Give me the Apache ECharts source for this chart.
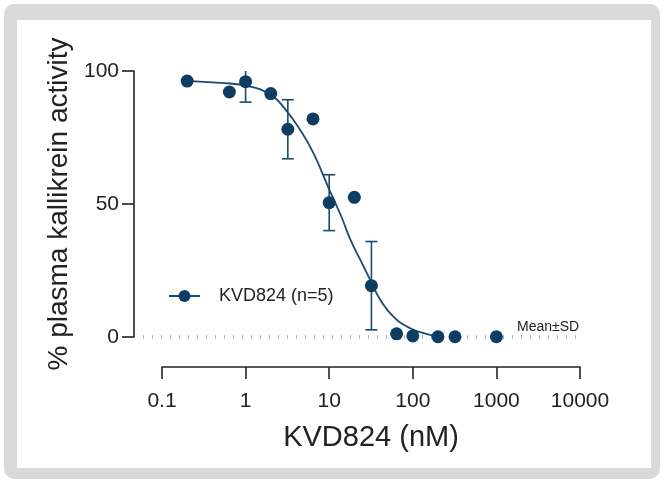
<!DOCTYPE html>
<html>
<head>
<meta charset="utf-8" />
<script src="https://cdn.jsdelivr.net/npm/echarts@6/dist/echarts.min.js"></script>
<style>
    html, body { margin: 0; padding: 0; width: 664px; height: 483px; background: #fff; overflow: hidden; }
    #frame { position: absolute; left: 4px; top: 4px; width: 656px; height: 475px; background: #d9d9d9; border-radius: 10px; }
    #inner { position: absolute; left: 17px; top: 20px; width: 634px; height: 448px; background: #fff; }
    #main { position: absolute; left: 0; top: 0; width: 664px; height: 483px; }
</style>
</head>
<body>
<div id="frame"></div>
<div id="inner"></div>
<div id="main"></div>
<script type="text/javascript">
    // measured points (mean) and SD
    var doses = [0.2, 0.64, 1, 2, 3.2, 6.4, 10, 20, 32, 64, 100, 200, 320, 1000];
    var activity = [96.2, 92.1, 96.0, 91.5, 78.1, 82.0, 50.5, 52.5, 19.3, 1.2, 0.4, 0.1, 0.1, 0.1];
    var sd = [0, 0, 7.7, 0, 11.1, 0, 10.5, 0, 16.6, 0, 0, 0, 0, 0];

    // fitted curve
    var fitX = [0.2, 0.5, 1, 2, 3, 4.5, 6.5, 10, 14, 18, 24, 31, 41, 59, 93, 148, 200];
    var fitY = [96.3, 95.5, 94.5, 91.0, 85.5, 77.8, 69.0, 55.5, 45.2, 36.5, 28.5, 21.4, 13.9, 7.6, 3.3, 1.1, 0.4];

    var xTicks = [0.1, 10000];
    var yTicks = [0, 50, 100];
    // dotted baseline at 0 % (runs a bit wider than the data axis)
    var zeroLineX = [0, 1];
    var zeroLineY = [0, 0];

    var seriesName = 'KVD824 (n=5)';
    var navy = '#0e3d63';
    var curveColor = '#1b4a72';
    var fontFam = 'Liberation Sans, Arial, sans-serif';

    var myChart = echarts.init(document.getElementById('main'), null, { renderer: 'canvas' });

    var pointData = doses.map(function (d, i) { return [d, activity[i]]; });
    var fitData = fitX.map(function (d, i) { return [d, fitY[i]]; });
    var zeroData = zeroLineX.map(function (d, i) { return [d, zeroLineY[i]]; });
    var errData = [];
    doses.forEach(function (d, i) {
        if (sd[i] > 0) errData.push([d, activity[i] - sd[i], activity[i] + sd[i]]);
    });

    function renderErrorBar(params, api) {
        var x = api.value(0);
        var top = api.coord([x, api.value(2)]);
        var bot = api.coord([x, api.value(1)]);
        var w = 6;
        var st = { stroke: curveColor, lineWidth: 1.6, fill: null };
        return {
            type: 'group',
            children: [
                { type: 'line', shape: { x1: top[0], y1: top[1], x2: bot[0], y2: bot[1] }, style: st },
                { type: 'line', shape: { x1: top[0] - w, y1: top[1], x2: top[0] + w, y2: top[1] }, style: st },
                { type: 'line', shape: { x1: bot[0] - w, y1: bot[1], x2: bot[0] + w, y2: bot[1] }, style: st }
            ]
        };
    }

    var axisLineStyle = { color: '#222', width: 1.6 };

    var option = {
        animation: false,
        textStyle: { fontFamily: fontFam },
        title: {
            text: 'Mean±SD',
            left: 512,
            top: 315,
            textStyle: { fontSize: 14, fontWeight: 'normal', color: '#222', fontFamily: fontFam }
        },
        legend: {
            data: [seriesName],
            left: 168,
            top: 287,
            padding: 0,
            itemWidth: 31,
            itemHeight: 15,
            textStyle: { fontSize: 18, color: '#222', fontFamily: fontFam, padding: [0, 0, 0, 14] }
        },
        grid: [
            { left: 162, right: 84, top: 71, bottom: 146, containLabel: false },
            { left: 143, right: 88, top: 71, bottom: 146, containLabel: false }
        ],
        xAxis: [{
            type: 'log',
            logBase: 10,
            min: xTicks[0],
            max: xTicks[1],
            offset: 30,
            name: 'KVD824 (nM)',
            nameLocation: 'middle',
            nameGap: 56,
            nameTextStyle: { fontSize: 29, color: '#222', fontFamily: fontFam },
            axisLine: { show: true, onZero: false, lineStyle: axisLineStyle },
            axisTick: { show: true, length: 12, lineStyle: axisLineStyle },
            minorTick: { show: false },
            axisLabel: {
                fontSize: 21, color: '#222', margin: 24, fontFamily: fontFam,
                formatter: function (v) { return String(v); }
            },
            splitLine: { show: false }
        }, {
            gridIndex: 1, type: 'value', min: 0, max: 1, show: false
        }],
        yAxis: [{
            type: 'value',
            min: yTicks[0],
            max: yTicks[2],
            interval: 50,
            offset: 28,
            name: '% plasma kallikrein activity',
            nameLocation: 'middle',
            nameGap: 57,
            nameTextStyle: { fontSize: 28, color: '#222', fontFamily: fontFam },
            axisLine: { show: true, onZero: false, lineStyle: axisLineStyle },
            axisTick: { show: true, length: 12, lineStyle: axisLineStyle },
            axisLabel: { fontSize: 21, color: '#222', margin: 15, fontFamily: fontFam },
            splitLine: { show: false }
        }, {
            gridIndex: 1, type: 'value', min: yTicks[0], max: yTicks[2], show: false
        }],
        series: [
            {
                name: 'baseline',
                type: 'line',
                xAxisIndex: 1,
                yAxisIndex: 1,
                data: zeroData,
                silent: true,
                symbol: 'none',
                lineStyle: { color: '#b5b5b5', width: 4, type: [1, 8], cap: 'butt' },
                z: 1
            },
            {
                name: seriesName,
                type: 'line',
                data: fitData,
                smooth: true,
                symbol: 'circle',
                symbolSize: 12,
                showSymbol: false,
                itemStyle: { color: navy },
                lineStyle: { color: curveColor, width: 1.8 },
                z: 3
            },
            {
                name: 'errors',
                type: 'custom',
                renderItem: renderErrorBar,
                data: errData,
                clip: true,
                z: 4
            },
            {
                name: 'points',
                type: 'scatter',
                data: pointData,
                symbol: 'circle',
                symbolSize: 13,
                itemStyle: { color: navy, opacity: 1 },
                z: 5
            }
        ]
    };

    myChart.setOption(option);
</script>
</body>
</html>
